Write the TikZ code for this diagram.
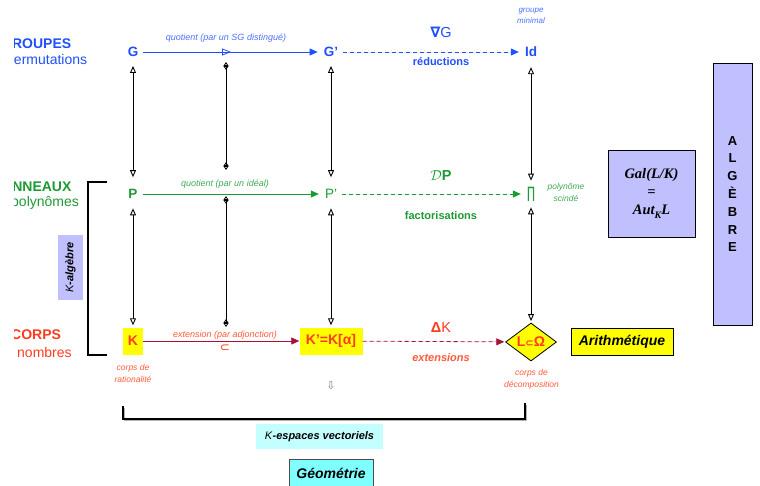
\documentclass[tikz,border=0pt]{standalone}
\usepackage{fontspec}
\setmainfont{Liberation Sans}
\newfontfamily\djv{DejaVu Sans}
\newfontfamily\tms{Liberation Serif}
\usetikzlibrary{arrows.meta,shapes.geometric,shadows,decorations.markings}
\definecolor{cblue}{HTML}{1F4FFF}
\definecolor{lblue}{HTML}{4A72FF}
\definecolor{cgreen}{HTML}{1C9A34}
\definecolor{lgreen}{HTML}{3DAA55}
\definecolor{cred}{HTML}{FF3B1F}
\definecolor{lred}{HTML}{FF5A3C}
\definecolor{dred}{HTML}{A8123A}
\definecolor{lav}{HTML}{C0C0FF}
\definecolor{cyanl}{HTML}{C4FFFF}
\definecolor{cyanm}{HTML}{80FFFF}
\definecolor{yel}{HTML}{FFFF00}
\newcommand\fsz[2]{\fontsize{#1}{#2}\selectfont}
\begin{document}
\begin{tikzpicture}[x=1pt,y=-1pt,
  mainb/.style={inner sep=0pt, font=\fsz{13.5}{13.5}\bfseries},
  mainr/.style={inner sep=0pt, font=\fsz{13.5}{13.5}},
  ybox/.style={fill=yel, inner sep=0pt, minimum height=27pt, font=\fsz{14}{14}\bfseries, text=cred},
  smalllab/.style={inner sep=0pt, align=center, font=\fsz{8.5}{11.5}\itshape},
  arrlab/.style={inner sep=0pt, font=\fsz{9}{9}\itshape},
  boldlab/.style={inner sep=0pt, font=\fsz{11}{11}\bfseries},
  vv/.style={draw=black, line width=0.9pt, arrows={Triangle[open,length=7pt,width=6pt]-Triangle[open,length=7pt,width=6pt]}},
  mm/.style={draw=black, line width=0.8pt, arrows={Triangle[open,length=4pt,width=5pt]Triangle[open,reversed,length=4pt,width=5pt]-Triangle[open,reversed,length=4pt,width=5pt]Triangle[open,length=4pt,width=5pt]}},
  harr/.style={line width=0.8pt, arrows={-Triangle[length=8pt,width=7pt]}},
  dashedarr/.style={harr, dash pattern=on 4pt off 3pt},
  sidelab/.style={anchor=base west, inner sep=0pt},
  lavbox/.style={fill=lav, draw=black, line width=0.8pt, inner sep=0pt},
  shad/.style={drop shadow={shadow xshift=1.2pt, shadow yshift=-1.2pt, opacity=0.45}}
]
\useasboundingbox (0,0) rectangle (760,485);

% ---- left side labels (clipped) ----
\begin{scope}
\clip (14,0) rectangle (760,485);
\node[sidelab, font=\fsz{14}{14}\bfseries, text=cblue] (grp) at (1,48) {GROUPES};
\node[sidelab, font=\fsz{14}{14}, text=cblue] (perm) at (6,64) {permutations};
\node[sidelab, font=\fsz{14}{14}\bfseries, text=cgreen] (ann) at (2,191) {ANNEAUX};
\node[sidelab, font=\fsz{14}{14}, text=cgreen] (poly) at (11,206) {polynômes};
\node[sidelab, font=\fsz{14}{14}\bfseries, text=cred] (crp) at (11,339) {CORPS};
\end{scope}
\node[sidelab, font=\fsz{14}{14}, text=cred] (nomb) at (17,357) {nombres};

% ---- main nodes ----
\node[mainb, text=cblue] (G) at (133,52) {G};
\node[mainb, text=cblue] (G2) at (331,52) {G’};
\node[mainb, text=cblue] (Id) at (531,52) {Id};
\node[mainb, text=cgreen] (P) at (133,194) {P};
\node[mainr, text=cgreen] (P2) at (331,194) {P’};
\node[inner sep=0pt, text=cgreen, font=\djv\fsz{15}{15}] (Pi) at (531,194) {\scalebox{0.7}[1.05]{∏}};
\node[ybox, minimum width=20pt] (K) at (133,341) {K};
\node[ybox, minimum width=63pt] (K2) at (331,341) {K’=K[α]};
\node[diamond, draw=black, line width=0.8pt, fill=yel, inner sep=0pt, shape aspect=1.3,
      minimum width=51pt, minimum height=38pt, text=cred, font=\fsz{14}{14}\bfseries] (L) at (531,342) {L{\djv\fsz{10}{10}⊂}Ω};

% ---- horizontal connectors ----
\draw[harr, draw=cblue, fill=cblue, shorten <=5pt, shorten >=6pt,
  postaction={decorate, decoration={markings, mark=at position 0.5 with {\arrow{Triangle[open,length=9pt,width=7pt]}}}}]
  (G) -- (G2);
\draw[dashedarr, draw=cblue, fill=cblue, shorten <=5pt, shorten >=6pt] (G2) -- (Id);
\draw[harr, draw=cgreen, fill=cgreen, shorten <=5pt, shorten >=6pt] (P) -- (P2);
\draw[dashedarr, draw=cgreen, fill=cgreen, shorten <=5pt, shorten >=6pt] (P2) -- (Pi);
\draw[harr, draw=dred, fill=dred] (K) -- (K2);
\draw[dashedarr, draw=dred, fill=dred, shorten >=1pt] (K2) -- (L);

% ---- vertical connectors ----
\draw[vv, shorten <=9pt, shorten >=12pt] (G) -- (P);
\draw[vv, shorten <=9.5pt, shorten >=2pt] (P) -- (K);
\draw[vv, shorten <=9pt, shorten >=12pt] (G2) -- (P2);
\draw[vv, shorten <=9.5pt, shorten >=2pt] (P2) -- (K2);
\draw[vv, shorten <=10pt, shorten >=6pt] (Id) -- (Pi);
\draw[vv, shorten <=6pt, shorten >=1.5pt] (Pi) -- (L);

\coordinate (m1) at (226,62);
\coordinate (m2) at (226,170);
\coordinate (m3) at (226,196);
\coordinate (m4) at (226,327);
\draw[mm] (m1) -- (m2);
\draw[mm] (m3) -- (m4);

% ---- edge labels ----
\node[arrlab, text=lblue] (qG) at (226,38) {quotient (par un SG distingué)};
\node[inner sep=0pt, text=cblue, font=\fsz{14.5}{14.5}] (nab) at (441,32) {{\djv\bfseries ∇}G};
\node[boldlab, text=cblue] (red) at (441,62) {réductions};
\node[smalllab, text=lblue, font=\fsz{8}{11}\itshape] (gm) at (531,15.5) {groupe\\minimal};

\node[arrlab, text=lgreen] (qP) at (225,184) {quotient (par un idéal)};
\node[inner sep=0pt, text=cgreen, font=\fsz{14.5}{14.5}] (DP) at (441,176) {$\mathcal{D}$\textbf{P}};
\node[boldlab, text=cgreen] (fac) at (441,216) {factorisations};
\node[smalllab, text=lgreen] (ps) at (566,192.5) {polynôme\\scindé};

\node[arrlab, text=lred] (ext) at (225,335) {extension (par adjonction)};
\node[inner sep=0pt, text=cred, font=\djv\fsz{12}{12}] (sub) at (225,348) {⊂};
\node[inner sep=0pt, text=cred, font=\fsz{14.5}{14.5}] (DK) at (441,328) {\textbf{Δ}K};
\node[inner sep=0pt, text=lred, font=\fsz{11}{11}\bfseries\itshape] (exts) at (441,358) {extensions};
\node[smalllab, text=lred] (cr) at (133,373.5) {corps de\\rationalité};
\node[smalllab, text=lred] (cd) at (531.5,379.5) {corps de\\décomposition};

\node[inner sep=0pt, text=gray, font=\djv\fsz{11}{11}] (down) at (331,386) {⇩};

% ---- boxes ----
\node[draw=black, line width=0.8pt, fill=yel, shad, minimum width=102pt, minimum height=27pt, inner sep=0pt,
      font=\fsz{14}{14}\bfseries\itshape] (ar) at (622,341.5) {Arithmétique};
\node[lavbox, shad, minimum width=87pt, minimum height=87pt, align=center,
      font=\tms\fsz{14.5}{18}\bfseries\itshape] (gal) at (651.5,193.5)
      {Gal(L/K)\\=\\Aut\raisebox{-3.5pt}{\fsz{10}{10}K}L};
\node[lavbox, shad, minimum width=39pt, minimum height=262pt, align=center,
      font=\fsz{13}{17.8}\bfseries] (alg) at (732.5,194) {A\\L\\G\\È\\B\\R\\E};
\node[fill=lav, rotate=90, minimum width=65pt, minimum height=25pt, inner sep=0pt,
      font=\fsz{11}{11}] (kalg) at (70.5,267.5) {\textit{K}\textbf{\textit{-algèbre}}};

% ---- brackets ----
\draw[line width=1.6pt] (107,182) -- (88,182) -- (88,355) -- (107,355);
\draw[gray!60, line width=1.6pt] (124.5,407.5) -- (124.5,420.5) -- (526.5,420.5) -- (526.5,404.5);
\draw[line width=1.6pt] (123,406) -- (123,419) -- (525,419) -- (525,403);

\node[fill=cyanl, minimum width=127pt, minimum height=25pt, inner sep=0pt,
      font=\fsz{11}{11}] (kev) at (319.5,436.5) {\textit{K}\textbf{\textit{-espaces vectoriels}}};
\begin{scope}
\clip (0,0) rectangle (760,485);
\node[draw=black!70, line width=0.8pt, fill=cyanm, shad, minimum width=84pt, minimum height=30pt, inner sep=0pt,
      font=\fsz{14}{14}\bfseries\itshape] (geo) at (331,474) {\raisebox{1.5pt}{Géométrie}};
\end{scope}
\end{tikzpicture}
\end{document}
